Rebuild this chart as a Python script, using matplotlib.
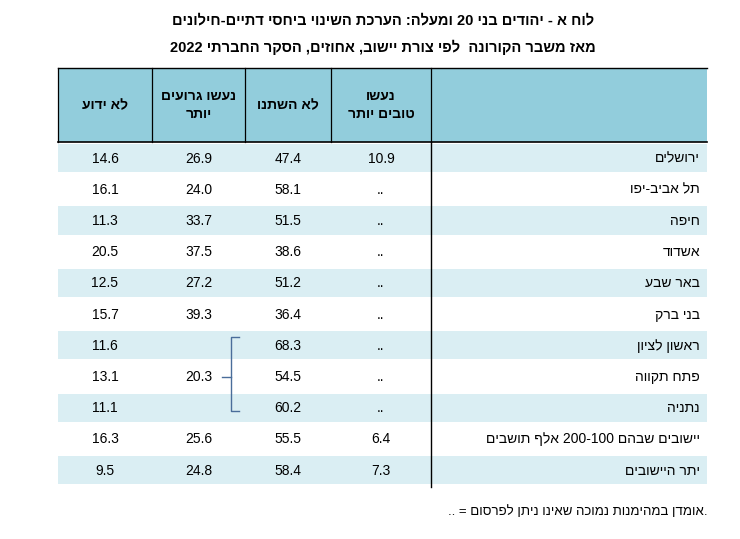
import re
import matplotlib

matplotlib.use("Agg")
import matplotlib.pyplot as plt
from matplotlib.patches import Rectangle

plt.rcParams["font.family"] = "Liberation Sans"

TITLE1 = "לוח א - יהודים בני 20 ומעלה: הערכת השינוי ביחסי דתיים-חילונים"
TITLE2 = "מאז משבר הקורונה  לפי צורת יישוב, אחוזים, הסקר החברתי 2022"
HEADERS = ["נעשו\nטובים יותר", "לא השתנו", "נעשו גרועים\nיותר", "לא ידוע"]
PLACES = ["ירושלים", "תל אביב-יפו", "חיפה", "אשדוד", "באר שבע", "בני ברק",
          "ראשון לציון", "פתח תקווה", "נתניה",
          "יישובים שבהם 100-200 אלף תושבים", "יתר היישובים"]
BETTER = ["10.9", "..", "..", "..", "..", "..", "..", "..", "..", "6.4", "7.3"]
SAME = ["47.4", "58.1", "51.5", "38.6", "51.2", "36.4", "68.3", "54.5", "60.2", "55.5", "58.4"]
WORSE = ["26.9", "24.0", "33.7", "37.5", "27.2", "39.3", "", "20.3", "", "25.6", "24.8"]
UNKNOWN = ["14.6", "16.1", "11.3", "20.5", "12.5", "15.7", "11.6", "13.1", "11.1", "16.3", "9.5"]
FOOTNOTE = "אומדן במהימנות נמוכה שאינו ניתן לפרסום"


def vis(s):
    # crude bidi: reverse token order, keep digit runs left-to-right
    out = []
    for line in s.split("\n"):
        toks = re.findall(r"[0-9.]+|[^0-9.]", line)
        out.append("".join(reversed(toks)))
    return "\n".join(out)


W, H = 740, 539
fig = plt.figure(figsize=(W / 100, H / 100), dpi=100)
ax = fig.add_axes([0, 0, 1, 1])
ax.set_xlim(0, W)
ax.set_ylim(H, 0)
ax.axis("off")

ax.text(383, 20, vis(TITLE1), ha="center", va="center", fontsize=10.5, fontweight="bold")
ax.text(383, 47, vis(TITLE2), ha="center", va="center", fontsize=10.5, fontweight="bold")

left, right = 58, 707
cols = [58, 152, 245, 331, 431, 707]  # column edges, left to right
htop, hbot = 68, 142
row_h = 31.2

# header
ax.add_patch(Rectangle((left, htop), right - left, hbot - htop, facecolor="#92cddc", edgecolor="none"))
ax.plot([left, right], [htop, htop], color="black", lw=1)
ax.plot([left, right], [hbot, hbot], color="black", lw=1.2)
for x in cols[:-1]:
    ax.plot([x, x], [htop, hbot], color="black", lw=0.9)
col_centers = [(cols[i] + cols[i + 1]) / 2 for i in range(4)]
for i, h in enumerate(HEADERS):
    ax.text(col_centers[3 - i], (htop + hbot) / 2, vis(h), ha="center", va="center",
            fontsize=10, fontweight="bold", linespacing=1.3)

# body
n = len(PLACES)
for r in range(n):
    y0 = hbot + 2 + r * row_h
    yc = y0 + row_h / 2
    if r % 2 == 0:
        ax.add_patch(Rectangle((left, y0), right - left, row_h - 3, facecolor="#daeef3", edgecolor="none"))
    ax.text(700, yc - 1, vis(PLACES[r]), ha="right", va="center", fontsize=10)
    ax.text(col_centers[3], yc - 1, BETTER[r], ha="center", va="center", fontsize=10)
    ax.text(col_centers[2], yc - 1, SAME[r], ha="center", va="center", fontsize=10)
    if WORSE[r]:
        ax.text(col_centers[1], yc - 1, WORSE[r], ha="center", va="center", fontsize=10)
    ax.text(col_centers[0], yc - 1, UNKNOWN[r], ha="center", va="center", fontsize=10)
body_bot = hbot + 2 + n * row_h
ax.plot([cols[4], cols[4]], [hbot, body_bot], color="black", lw=1)

# bracket joining rows 7-9
bc = "#4a6d9a"
ax.plot([239, 231, 231, 239], [337, 337, 411, 411], color=bc, lw=1)
ax.plot([222, 231], [377, 377], color=bc, lw=1)

ax.text(707, 512, ".. = " + vis(FOOTNOTE) + ".", ha="right", va="center", fontsize=9.5)

fig.savefig("out.png", dpi=100)
